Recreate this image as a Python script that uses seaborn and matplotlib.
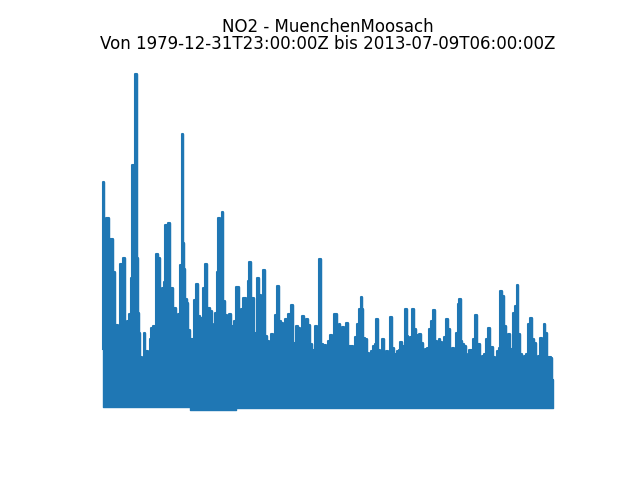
import numpy as np
import pandas as pd
import matplotlib
matplotlib.use("Agg")
import matplotlib.pyplot as plt
import seaborn as sns

station = "MuenchenMoosach"
title_text = "NO2 - MuenchenMoosach\nVon 1979-12-31T23:00:00Z bis 2013-07-09T06:00:00Z"

# Decimal year of peaks
peak_years = [
    1980.00, 1980.04, 1980.15, 1980.37, 1980.52, 1980.66, 1980.85, 1980.96, 1981.11, 1981.26,
    1981.40, 1981.59, 1981.70, 1981.92, 1982.07, 1982.14, 1982.29, 1982.47, 1982.58, 1982.66,
    1982.73, 1982.88, 1983.03, 1983.10, 1983.25, 1983.47, 1983.54, 1983.69, 1983.84, 1984.06,
    1984.21, 1984.36, 1984.50, 1984.58, 1984.73, 1984.95, 1985.09, 1985.32, 1985.54, 1985.68,
    1985.83, 1985.91, 1985.98, 1986.13, 1986.20, 1986.35, 1986.42, 1986.57, 1986.72, 1986.87,
    1987.01, 1987.16, 1987.38, 1987.53, 1987.68, 1987.90, 1988.05, 1988.20, 1988.27, 1988.42,
    1988.56, 1988.64, 1988.79, 1988.93, 1989.01, 1989.15, 1989.30, 1989.45, 1989.67, 1989.82,
    1990.04, 1990.19, 1990.34, 1990.56, 1990.71, 1990.85, 1990.93, 1991.07, 1991.15, 1991.30,
    1991.44, 1991.59, 1991.67, 1991.89, 1991.96, 1992.18, 1992.33, 1992.48, 1992.62, 1992.77,
    1992.92, 1993.07, 1993.22, 1993.36, 1993.51, 1993.66, 1993.88, 1993.95, 1994.10, 1994.25,
    1994.47, 1994.62, 1994.77, 1994.91, 1995.06, 1995.21, 1995.36, 1995.50, 1995.65, 1995.87,
    1996.02, 1996.17, 1996.32, 1996.46, 1996.69, 1996.83, 1996.98, 1997.13, 1997.35, 1997.50,
    1997.65, 1997.72, 1997.87, 1998.01, 1998.24, 1998.31, 1998.53, 1998.68, 1998.83, 1998.97,
    1999.12, 1999.27, 1999.34, 1999.42, 1999.64, 1999.71, 1999.86, 2000.01, 2000.16, 2000.30,
    2000.38, 2000.52, 2000.67, 2000.82, 2000.97, 2001.12, 2001.26, 2001.41, 2001.56, 2001.78,
    2001.93, 2002.08, 2002.15, 2002.30, 2002.44, 2002.59, 2002.67, 2002.81, 2002.96, 2003.11,
    2003.26, 2003.40, 2003.48, 2003.63, 2003.77, 2003.92, 2004.07, 2004.22, 2004.36, 2004.51,
    2004.66, 2004.81, 2004.95, 2005.03, 2005.18, 2005.32, 2005.47, 2005.62, 2005.77, 2005.91,
    2006.06, 2006.21, 2006.36, 2006.43, 2006.58, 2006.65, 2006.80, 2006.95, 2007.02, 2007.17,
    2007.32, 2007.46, 2007.61, 2007.76, 2007.91, 2007.98, 2008.13, 2008.28, 2008.42, 2008.57,
    2008.72, 2008.87, 2008.94, 2009.09, 2009.24, 2009.38, 2009.53, 2009.61, 2009.75, 2009.90,
    2010.05, 2010.20, 2010.34, 2010.42, 2010.57, 2010.71, 2010.86, 2010.93, 2011.08, 2011.23,
    2011.38, 2011.52, 2011.67, 2011.82, 2011.97, 2012.12, 2012.26, 2012.41, 2012.56, 2012.71,
    2012.85, 2013.00, 2013.15, 2013.30, 2013.37, 2013.52,
]

# Peak NO2 values
peak_values = [
    59, 226, 150, 190, 130, 169, 136, 69, 83, 79,
    144, 150, 67, 87, 94, 130, 243, 334, 150, 95,
    75, 51, 39, 75, 57, 44, 69, 80, 82, 154,
    150, 79, 120, 126, 183, 185, 120, 100, 83, 94,
    143, 274, 165, 139, 109, 105, 78, 69, 69, 108,
    124, 92, 90, 120, 144, 100, 97, 84, 82, 95,
    136, 190, 110, 196, 107, 93, 80, 94, 82, 87,
    121, 67, 99, 110, 104, 127, 146, 80, 110, 65,
    75, 130, 113, 103, 138, 72, 67, 57, 74, 55,
    93, 122, 87, 85, 74, 89, 94, 73, 103, 65,
    82, 80, 67, 92, 76, 89, 83, 64, 58, 82,
    59, 149, 64, 63, 57, 67, 73, 72, 94, 74,
    84, 62, 81, 54, 85, 62, 62, 61, 71, 84,
    99, 111, 99, 70, 69, 55, 52, 57, 62, 64,
    89, 58, 54, 69, 54, 57, 48, 91, 60, 54,
    57, 58, 66, 61, 62, 99, 72, 61, 71, 99,
    79, 73, 68, 74, 65, 52, 59, 60, 79, 87,
    98, 67, 57, 69, 66, 60, 71, 89, 79, 57,
    60, 57, 75, 104, 109, 67, 64, 62, 54, 52,
    58, 58, 69, 93, 62, 64, 45, 52, 54, 69,
    80, 60, 61, 51, 47, 57, 60, 117, 112, 82,
    72, 74, 45, 59, 95, 102, 123, 74, 54, 45,
    52, 54, 84, 90, 69, 65, 42, 52, 70, 52,
    84, 75, 51, 51, 50, 27,
]

# Lower edge of the band
low_years = [1980.00, 1986.50, 1986.57, 1990.00, 1990.04, 2013.52]
low_values = [0, 0, -3, -3, -1, -1]

df = pd.DataFrame({"time": peak_years, "NO2": peak_values})
df["low"] = np.interp(df["time"], low_years, low_values)

color = "#1f77b4"
fig, ax = plt.subplots(figsize=(6.4, 4.8), dpi=100)
ax.fill_between(df["time"], df["low"], df["NO2"], step="mid",
                color=color, edgecolor=color, linewidth=1.0)
sns.lineplot(data=df, x="time", y="NO2", ax=ax, color=color, linewidth=1.5,
             estimator=None, sort=False, drawstyle="steps-mid")
ax.set_title(title_text, fontsize=12, linespacing=0.95)
ax.axis("off")
fig.savefig("out.png", dpi=100)
